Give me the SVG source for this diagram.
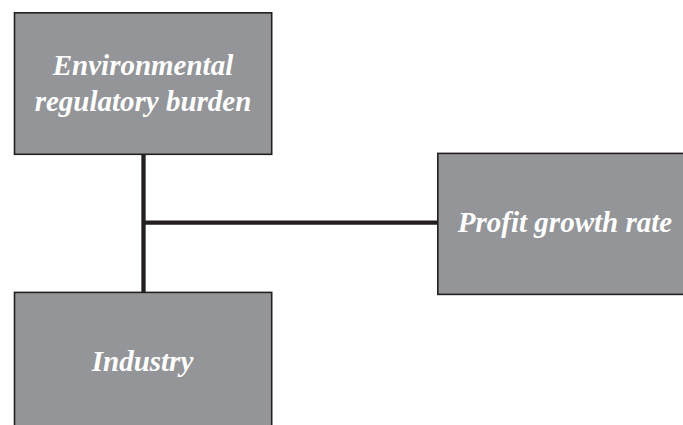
<svg xmlns="http://www.w3.org/2000/svg" width="683" height="425" viewBox="0 0 683 425">
<style>
.box{fill:#939598;stroke:#231f20;stroke-width:1.6}
.lbl{font-family:"Liberation Serif","Times New Roman",serif;font-weight:bold;font-style:italic;font-size:29px;fill:#ffffff;text-anchor:middle}
.conn{stroke:#231f20;stroke-width:4.3;fill:none}
</style>
<rect width="683" height="425" fill="#ffffff"/>
<g id="connectors">
<line class="conn" x1="143.5" y1="154" x2="143.5" y2="292.5"/>
<line class="conn" x1="143.5" y1="222.7" x2="438" y2="222.7"/>
</g>
<g id="node-env">
<rect class="box" x="14.5" y="12.8" width="257.2" height="141.5"/>
<text class="lbl" x="143" y="74.5">Environmental</text>
<text class="lbl" x="143" y="110.5">regulatory burden</text>
</g>
<g id="node-profit">
<rect class="box" x="437.8" y="153.4" width="260" height="141"/>
<text class="lbl" x="565" y="232">Profit growth rate</text>
</g>
<g id="node-industry">
<rect class="box" x="14.5" y="292.4" width="257.2" height="150"/>
<text class="lbl" x="142.5" y="371">Industry</text>
</g>
</svg>
